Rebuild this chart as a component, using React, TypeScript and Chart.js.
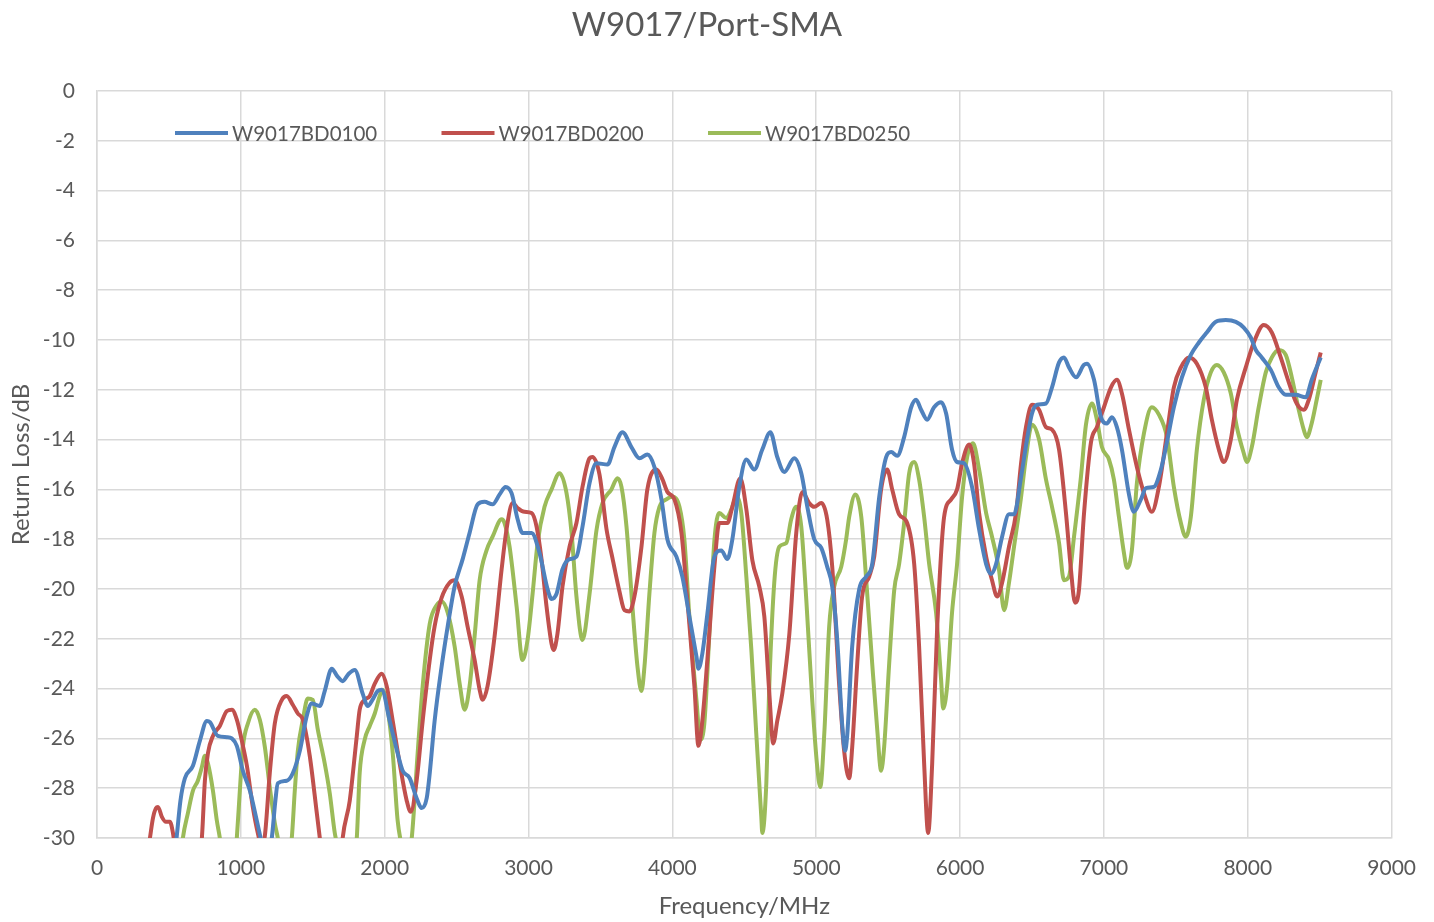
import React, { useEffect, useRef } from "react";
import { Chart, registerables } from "chart.js";

Chart.register(...registerables);

const chartTitle = "W9017/Port-SMA";
const xTitle = "Frequency/MHz";
const yTitle = "Return Loss/dB";
const seriesNames = ["W9017BD0100", "W9017BD0200", "W9017BD0250"];
const seriesColors = ["#4F81BD", "#C0504D", "#9BBB59"];

const blueFreq = [530,553,580,611,667,715,764,785,840,903,937,972,1014,1063,1111,1146,1180,1215,1240,1257,1319,1361,1410,1458,1493,1549,1583,1632,1670,1708,1750,1792,1847,1882,1920,1951,1979,2035,2090,2125,2174,2222,2257,2292,2313,2347,2396,2438,2486,2542,2590,2646,2694,2750,2799,2840,2882,2924,2958,3021,3076,3132,3160,3194,3236,3285,3333,3375,3424,3472,3549,3597,3653,3715,3771,3826,3875,3924,3965,4028,4069,4118,4167,4181,4208,4243,4292,4340,4382,4417,4465,4514,4569,4625,4681,4729,4778,4847,4896,4938,4986,5035,5076,5111,5146,5181,5200,5215,5250,5299,5347,5389,5438,5486,5521,5563,5611,5660,5694,5729,5771,5819,5868,5903,5944,5979,6028,6083,6132,6181,6215,6250,6292,6340,6375,6424,6465,6500,6535,6597,6639,6688,6722,6757,6806,6860,6882,6931,6979,7021,7056,7090,7125,7174,7208,7257,7292,7347,7396,7438,7486,7542,7604,7660,7715,7778,7847,7917,7972,8021,8056,8097,8160,8215,8264,8333,8403,8444,8507];
const blueDb = [-31,-30,-28.5,-27.6,-27.1,-26.1,-25.3,-25.35,-25.9,-25.95,-26.0,-26.3,-27.3,-28.1,-29.3,-30.2,-30.8,-30,-28.5,-27.8,-27.7,-27.4,-26.5,-25.1,-24.6,-24.7,-24.1,-23.2,-23.5,-23.7,-23.4,-23.25,-24.2,-24.7,-24.4,-24.1,-24.05,-25.3,-26.6,-27.3,-27.6,-28.4,-28.8,-28.4,-27.4,-25.3,-23.1,-21.5,-19.9,-18.8,-17.75,-16.6,-16.5,-16.6,-16.2,-15.9,-16.15,-17.2,-17.75,-17.75,-18.55,-20.0,-20.4,-20.2,-19.2,-18.8,-18.7,-17.5,-15.75,-14.95,-15.0,-14.3,-13.7,-14.3,-14.75,-14.6,-15.1,-16.4,-18.0,-18.7,-19.5,-21.1,-22.7,-23.2,-22.6,-21.0,-18.7,-18.45,-18.8,-18.0,-15.9,-14.8,-15.2,-14.4,-13.7,-14.7,-15.3,-14.75,-15.35,-16.7,-18.0,-18.35,-19.1,-19.9,-22.05,-25.5,-26.5,-25.9,-22.3,-20.0,-19.5,-19.0,-16.3,-14.7,-14.5,-14.65,-13.9,-12.7,-12.4,-12.8,-13.2,-12.7,-12.5,-12.95,-14.4,-14.9,-14.95,-15.9,-17.6,-19.0,-19.4,-19.0,-17.9,-17.0,-17.0,-15.5,-14.0,-12.95,-12.6,-12.55,-11.9,-10.9,-10.7,-11.1,-11.5,-11.0,-10.95,-11.6,-13.1,-13.35,-13.1,-13.5,-14.4,-16.2,-16.9,-16.4,-15.95,-15.9,-15.2,-14.1,-12.7,-11.5,-10.6,-10.1,-9.7,-9.27,-9.2,-9.27,-9.5,-9.9,-10.4,-10.7,-11.2,-11.9,-12.2,-12.2,-12.3,-11.6,-10.7];

const redFreq = [340,368,389,410,424,451,479,507,528,545,620,700,729,750,771,806,854,903,938,972,1007,1042,1083,1118,1143,1167,1201,1236,1285,1319,1361,1396,1431,1479,1528,1549,1600,1680,1708,1757,1806,1826,1861,1896,1931,1979,2014,2056,2104,2153,2181,2222,2264,2313,2347,2396,2451,2486,2535,2576,2625,2660,2681,2715,2764,2813,2847,2889,2924,2972,3021,3056,3090,3125,3160,3174,3201,3236,3285,3333,3375,3424,3444,3493,3542,3583,3632,3667,3701,3736,3785,3826,3889,3931,3965,4014,4063,4104,4153,4181,4208,4243,4292,4326,4382,4417,4472,4514,4556,4604,4639,4674,4701,4729,4764,4813,4861,4903,4951,4986,5035,5076,5111,5160,5194,5229,5250,5285,5319,5368,5403,5451,5493,5528,5576,5632,5681,5715,5750,5778,5806,5840,5889,5938,5979,6014,6063,6097,6132,6181,6222,6257,6292,6340,6389,6424,6458,6500,6549,6597,6639,6688,6736,6771,6799,6826,6861,6910,6951,7000,7049,7090,7125,7174,7229,7292,7333,7382,7438,7486,7535,7590,7646,7708,7750,7799,7833,7882,7924,7986,8042,8111,8167,8229,8285,8340,8389,8424,8472,8507];
const redDb = [-31,-30,-29.2,-28.8,-28.75,-29.15,-29.35,-29.35,-29.8,-30.5,-32,-31,-30,-27.7,-26.6,-25.9,-25.5,-24.9,-24.85,-25.25,-26.1,-27.1,-28.75,-29.8,-30.3,-29.9,-27.4,-25.4,-24.45,-24.3,-24.65,-25.0,-25.25,-26.7,-29.0,-30,-32.5,-32,-30,-28.5,-25.9,-24.85,-24.45,-24.3,-23.8,-23.4,-23.9,-25.3,-27.0,-28.5,-28.95,-27.7,-25.3,-22.85,-21.5,-20.35,-19.75,-19.65,-20.3,-21.5,-22.85,-24.05,-24.45,-23.9,-21.9,-19.2,-17.6,-16.55,-16.75,-16.9,-16.95,-17.5,-18.8,-20.7,-22.2,-22.45,-21.8,-19.9,-18.3,-17.35,-15.9,-14.75,-14.7,-15.4,-17.6,-18.75,-20.1,-20.85,-20.9,-20.3,-18.3,-16.0,-15.2,-15.6,-16.1,-16.4,-17.75,-20.45,-23.9,-26.3,-25.3,-22.85,-19.1,-17.35,-17.35,-16.7,-15.55,-16.8,-18.85,-19.9,-21.1,-24.2,-26.2,-25.3,-24.2,-21.8,-17.75,-16.1,-16.55,-16.7,-16.55,-17.2,-19.1,-23.9,-26.5,-27.6,-26.35,-23.0,-20.3,-19.5,-18.7,-16.0,-15.2,-16.0,-17.0,-17.35,-19.0,-22.3,-27.0,-29.8,-27.0,-21.65,-17.1,-16.4,-16.0,-14.95,-14.2,-14.95,-16.95,-18.7,-19.65,-20.3,-19.75,-18.3,-16.95,-14.95,-13.5,-12.6,-12.8,-13.5,-13.6,-14.4,-16.95,-19.25,-20.55,-20.05,-17.0,-14.1,-13.5,-12.7,-11.9,-11.6,-12.15,-13.6,-15.1,-16.4,-16.9,-15.9,-13.75,-11.9,-11.1,-10.7,-10.95,-11.9,-13.2,-14.4,-14.9,-14.0,-12.4,-11.1,-10.1,-9.4,-9.7,-10.7,-11.7,-12.55,-12.8,-12.4,-11.3,-10.5];

const greenFreq = [570,597,632,667,701,729,750,771,806,833,854,900,950,972,993,1014,1049,1097,1132,1167,1201,1236,1257,1300,1354,1375,1396,1431,1465,1500,1535,1583,1618,1653,1667,1740,1806,1826,1861,1896,1931,1965,1986,2021,2056,2090,2118,2150,2188,2229,2264,2313,2361,2396,2438,2486,2521,2556,2590,2625,2660,2708,2750,2813,2833,2868,2917,2958,2993,3028,3063,3111,3160,3215,3264,3299,3333,3375,3424,3472,3514,3576,3618,3646,3681,3722,3757,3785,3806,3840,3875,3910,3958,4000,4049,4083,4118,4167,4194,4222,4257,4292,4326,4375,4410,4444,4479,4514,4549,4583,4618,4625,4653,4674,4708,4743,4792,4826,4861,4896,4931,4972,5007,5028,5056,5090,5125,5174,5208,5229,5271,5313,5347,5389,5424,5451,5472,5507,5542,5576,5611,5646,5681,5715,5750,5785,5833,5868,5882,5910,5944,5979,6014,6049,6090,6132,6181,6222,6271,6306,6340,6375,6424,6458,6500,6549,6597,6639,6688,6722,6757,6792,6840,6875,6917,6951,6986,7035,7069,7104,7139,7160,7194,7229,7278,7333,7382,7438,7486,7535,7569,7604,7646,7694,7743,7785,7833,7882,7924,7972,7993,8028,8076,8125,8167,8215,8264,8306,8354,8389,8410,8444,8479,8507];
const greenDb = [-31.5,-30,-29.0,-28.1,-27.7,-27.15,-26.7,-27.0,-28.1,-29.3,-30,-32,-31.5,-30,-28.1,-26.35,-25.4,-24.85,-25.25,-26.35,-27.95,-29.4,-30,-31.5,-30,-28.1,-26.5,-25.25,-24.4,-24.45,-25.65,-27.0,-28.2,-29.8,-30.2,-32.5,-30,-27.4,-26.05,-25.5,-25.0,-24.3,-24.05,-24.85,-26.6,-29.3,-30.3,-31,-30,-26.6,-23.9,-21.4,-20.65,-20.5,-20.95,-22.3,-23.8,-24.85,-23.9,-21.9,-19.65,-18.45,-17.9,-17.2,-17.35,-18.3,-20.7,-22.85,-22.05,-20.2,-18.15,-16.7,-16.0,-15.35,-16.15,-17.75,-20.3,-22.05,-20.2,-17.65,-16.55,-16.0,-15.55,-15.9,-17.5,-20.7,-23.1,-24.1,-23.1,-20.2,-17.75,-16.7,-16.4,-16.3,-16.7,-18.0,-21.1,-24.45,-26.05,-25.4,-21.8,-18.05,-16.95,-17.15,-16.8,-16.3,-16.95,-19.5,-22.45,-25.8,-29.15,-29.8,-27.8,-23.8,-19.75,-18.3,-18.15,-17.2,-16.7,-17.5,-20.45,-24.45,-27.15,-27.95,-25.8,-21.5,-19.9,-19.1,-18.0,-17.1,-16.2,-17.1,-19.6,-23.0,-25.65,-27.3,-26.35,-23.0,-20.05,-19.0,-17.35,-15.35,-14.9,-15.6,-17.1,-19.0,-20.95,-23.65,-24.8,-23.9,-20.95,-19.0,-16.3,-14.7,-14.15,-15.2,-16.95,-17.9,-19.25,-20.85,-19.75,-18.3,-16.3,-14.7,-13.4,-14.0,-15.6,-16.7,-18.15,-19.65,-19.5,-17.9,-15.5,-13.4,-12.55,-13.2,-14.3,-14.8,-15.6,-17.1,-18.55,-19.15,-18.45,-15.75,-13.75,-12.7,-13.0,-13.9,-15.9,-17.35,-17.9,-17.1,-14.4,-12.4,-11.3,-11.0,-11.3,-12.15,-13.5,-14.55,-14.9,-14.3,-12.7,-11.3,-10.7,-10.4,-10.6,-11.5,-12.8,-13.6,-13.9,-13.35,-12.4,-11.6];

const FONT = "Lato, 'Open Sans', sans-serif";
const TEXT_COLOR = "#595959";
const GRID_COLOR = "#d9d9d9";

const toPoints = (xs: number[], ys: number[]) => xs.map((x, i) => ({ x, y: ys[i] }));

const titleAndLegend = {
  id: "titleAndLegend",
  afterDatasetsDraw(chart: any) {
    const { ctx, chartArea } = chart;
    ctx.save();
    // chart title
    ctx.font = `33px ${FONT}`;
    ctx.fillStyle = TEXT_COLOR;
    ctx.textAlign = "center";
    ctx.textBaseline = "middle";
    ctx.fillText(chartTitle, 707, 25);
    // legend inside the plot area
    const y = chartArea.top + 42;
    ctx.font = `20.5px ${FONT}`;
    ctx.textAlign = "left";
    chart.data.datasets.forEach((ds: any, i: number) => {
      const x0 = chartArea.left + 78 + i * 266.5;
      ctx.strokeStyle = ds.borderColor;
      ctx.lineWidth = 4;
      ctx.beginPath();
      ctx.moveTo(x0, y);
      ctx.lineTo(x0 + 53, y);
      ctx.stroke();
      ctx.fillStyle = TEXT_COLOR;
      ctx.fillText(ds.label, x0 + 57, y + 1);
    });
    ctx.restore();
  },
};

export default function App() {
  const canvasRef = useRef<HTMLCanvasElement | null>(null);

  useEffect(() => {
    if (!canvasRef.current) return;
    const series = [
      toPoints(blueFreq, blueDb),
      toPoints(redFreq, redDb),
      toPoints(greenFreq, greenDb),
    ];
    const chart = new Chart(canvasRef.current, {
      type: "line",
      data: {
        datasets: series.map((pts, i) => ({
          label: seriesNames[i],
          data: pts,
          borderColor: seriesColors[i],
          backgroundColor: seriesColors[i],
          borderWidth: 4,
          pointRadius: 0,
          cubicInterpolationMode: "monotone" as const,
          clip: 0,
          fill: false,
        })),
      },
      options: {
        animation: false,
        responsive: false,
        devicePixelRatio: 1,
        layout: { padding: { left: 0, right: 41, top: 91, bottom: 0 } },
        plugins: {
          legend: { display: false },
          tooltip: { enabled: false },
          title: { display: false },
        },
        scales: {
          x: {
            type: "linear",
            min: 0,
            max: 9000,
            afterFit: (s: any) => { s.height = 84; },
            ticks: {
              stepSize: 1000,
              color: TEXT_COLOR,
              font: { family: FONT, size: 21 },
              padding: 18,
              maxRotation: 0,
              callback: (v: any) => String(v),
            },
            grid: { color: GRID_COLOR, lineWidth: 1.5, drawTicks: false },
            border: { color: GRID_COLOR, width: 1.5 },
            title: { display: true, text: xTitle, color: TEXT_COLOR, font: { family: FONT, size: 24 }, padding: { top: 1, bottom: 1 } },
          },
          y: {
            type: "linear",
            min: -30,
            max: 0,
            afterFit: (s: any) => { s.width = 97; },
            ticks: { stepSize: 2, color: TEXT_COLOR, font: { family: FONT, size: 21 }, padding: 22 },
            grid: { color: GRID_COLOR, lineWidth: 1.5, drawTicks: false },
            border: { color: GRID_COLOR, width: 1.5 },
            title: { display: true, text: yTitle, color: TEXT_COLOR, font: { family: FONT, size: 24 }, padding: { top: 7, bottom: 7 } },
          },
        },
      },
      plugins: [titleAndLegend],
    });
    return () => chart.destroy();
  }, []);

  return (
    <div style={{ position: "fixed", left: 0, top: 0, width: 1434, height: 922, background: "#fff" }}>
      <canvas ref={canvasRef} width={1434} height={922} style={{ width: 1434, height: 922, display: "block" }} />
    </div>
  );
}
